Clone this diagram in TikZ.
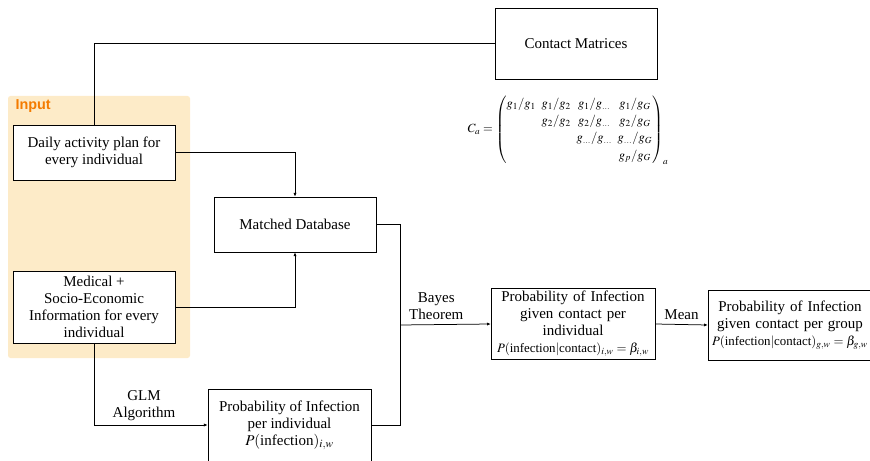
\documentclass[tikz,border=0pt]{standalone}
\usepackage{amsmath}
\usepackage{mathptmx}
\usepackage{fontspec}
\setmainfont{Liberation Serif}
\newfontfamily\inputfont{Liberation Sans}
\usepackage{tikz}
\usetikzlibrary{positioning,arrows.meta,calc}
\definecolor{inputbg}{RGB}{253,235,200}
\definecolor{inputfg}{RGB}{244,123,0}
\newcommand{\formsize}{\fontsize{10.3}{13.6}\selectfont}

\begin{document}
\begin{tikzpicture}[x=0.8pt,y=-0.8pt,line width=0.6pt,
  arr/.style={-{Latex[length=3pt,width=2.6pt]}},
  box/.style={draw,align=center,inner sep=2pt,minimum width=129.6pt},
  lbl/.style={align=center,font=\fontsize{12}{13.6}\selectfont}]
\tikzstyle{every node}=[font=\fontsize{12}{13.6}\selectfont]
\useasboundingbox (0,0) rectangle (870,461);
% the input area
\fill[inputbg,rounded corners=2pt] (8,96) rectangle (190,358);
\node[anchor=west,text=inputfg,font=\inputfont\bfseries\fontsize{11.5}{13}\selectfont] (inlbl) at (11,106) {Input};
\node[box,minimum height=44pt,fill=white] (daily) at (94,152.5) {Daily activity plan for\\every individual};
\node[box,minimum height=57.6pt,fill=white] (medical) at (94,307) {Medical +\\Socio-Economic\\Information for every\\individual};
% the other boxes
\node[box,minimum height=44pt] (matched) at (295,224.5) {Matched Database};
\node[box,minimum height=56.8pt] (contact) at (576,43.5) {Contact Matrices};
\node[box,minimum width=130.4pt,minimum height=57.6pt] (probind) at (289.5,425) {Probability of Infection\\per individual\\$P(\text{infection})_{i,w}$};
\node[box,inner xsep=1pt,text width=129pt,minimum height=54.4pt] (probcont) at (573,324) {Probability of Infection\\given contact per\\individual\\{\formsize$P(\text{infection}|\text{contact})_{i,w}=\beta_{i,w}$}};
\node[box,inner xsep=1pt,text width=129pt,minimum height=56pt] (probgrp) at (790,325) {Probability of Infection\\given contact per group\\{\formsize$P(\text{infection}|\text{contact})_{g,w}=\beta_{g,w}$}};
\node[font=\fontsize{10}{12}\selectfont,inner sep=0pt] (cmat) at (568,130) {\setlength{\arraycolsep}{2.3pt}\renewcommand{\arraystretch}{1.15}$C_a=\begin{pmatrix}
g_1/g_1 & g_1/g_2 & g_1/g_{\dots} & g_1/g_G\\
 & g_2/g_2 & g_2/g_{\dots} & g_2/g_G\\
 & & g_{\dots}/g_{\dots} & g_{\dots}/g_G\\
 & & & g_p/g_G
\end{pmatrix}_a$};
% connectors
\coordinate (join) at (400,325);
\draw (daily.north) |- (contact.west);
\draw[arr] (daily.east) -| (matched.north);
\draw[arr] (medical.east) -| (matched.south);
\draw (matched.east) -| (join);
\draw (probind.east) -| (join);
\draw[arr] (join) -- (probcont.west) node[lbl,pos=0.4,above] {Bayes\\Theorem};
\draw[arr] (medical.south) |- (probind.west) node[lbl,pos=0.72,above] {GLM\\Algorithm};
\draw[arr] (probcont.east) -- (probgrp.west) node[lbl,midway,above] {Mean};
\end{tikzpicture}
\end{document}
